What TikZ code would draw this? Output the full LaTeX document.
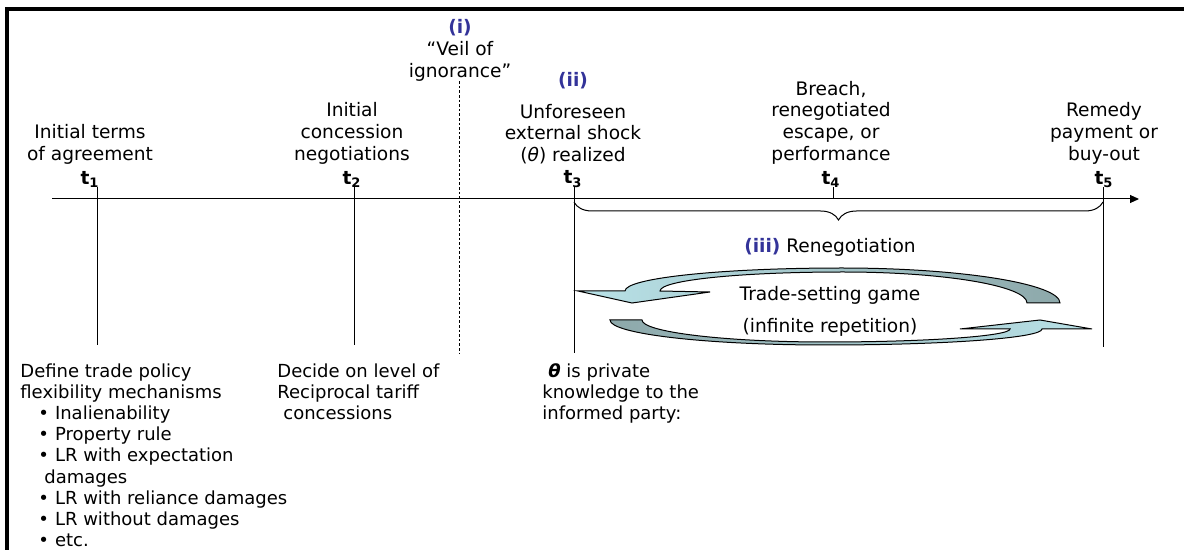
\documentclass[tikz,border=0pt]{standalone}
\usepackage{fontspec}
\setmainfont{DejaVu Sans}
\usetikzlibrary{positioning, arrows.meta, decorations.pathreplacing}
\definecolor{romblue}{HTML}{333399}
\definecolor{arrlight}{HTML}{B9E2E8}
\definecolor{arrdark}{HTML}{8DA8AA}

\begin{document}
\begin{tikzpicture}[x=0.5pt, y=-0.5pt, node distance=3pt,
  every node/.style={font=\fontsize{9.3}{10.9}\selectfont, inner sep=0pt},
  lbl/.style={align=center},
  tlbl/.style={font=\fontsize{9.3}{10.9}\selectfont\bfseries, anchor=south},
  rom/.style={text=romblue, font=\fontsize{9.3}{10.9}\selectfont\bfseries},
  note/.style={align=left, anchor=north west, font=\fontsize{9}{10.6}\selectfont},
  tline/.style={line width=0.5pt},
  loopband/.style={draw=black, line width=0.5pt}]
	\useasboundingbox (0,0) rectangle (1184,550);
	\draw[line width=2pt] (7,550) -- (7,9) -- (1184,9);

	% time axis
	\coordinate (ax0) at (52,199);
	\coordinate (ax1) at (1139,199);
	\draw[tline, -{Triangle[length=4.5pt,width=4pt]}] (ax0) -- (ax1);

	% ticks and drop lines
	\coordinate (k1) at (97,187);   \coordinate (e1) at (97,345);
	\coordinate (k2) at (354,187);  \coordinate (e2) at (354,345);
	\coordinate (k3) at (574,187);  \coordinate (e3) at (574,353);
	\coordinate (k4) at (833,187);  \coordinate (e4) at (833,199);
	\coordinate (k5) at (1103,187); \coordinate (e5) at (1103,347);
	\foreach \i in {1,...,5} \draw[tline] (k\i) -- (e\i);

	% time labels
	\node[tlbl] at (90,188) (t1) {t\textsubscript{1}};
	\node[tlbl] at (352,188) (t2) {t\textsubscript{2}};
	\node[tlbl] at (573,188) (t3) {t\textsubscript{3}};
	\node[tlbl] at (831,188) (t4) {t\textsubscript{4}};
	\node[tlbl] at (1104,188) (t5) {t\textsubscript{5}};

	\node[lbl, above=of t1] (init) {Initial terms\\of agreement};
	\node[lbl, above=of t2] (conc) {Initial\\concession\\negotiations};
	\node[lbl, above=of t3] (shock) {Unforeseen\\external shock\\(\textit{θ}) realized};
	\node[lbl, above=of t4] (breach) {Breach,\\renegotiated\\escape, or\\performance};
	\node[lbl, above=of t5] (remedy) {Remedy\\payment or\\buy-out};
	\node[rom, above=7pt of shock] (ii) {(ii)};

	% veil of ignorance
	\node[lbl] at (460,61) (veil) {“Veil of\\ignorance”};
	\node[rom, above=2pt of veil] (i) {(i)};
	\coordinate (veilend) at (459,353);
	\draw[tline, dash pattern=on 1.3pt off 1pt] (veil.south -| veilend) -- (veilend);

	% renegotiation phase
	\coordinate (br3) at (574,202);
	\coordinate (br5) at (1103,202);
	\draw[tline, decorate, decoration={brace, mirror, amplitude=9pt}] (br3) -- (br5);
	\node at (830,247) (reneg) {\textcolor{romblue}{\bfseries (iii)} Renegotiation};

	\shadedraw[loopband, left color=arrlight, right color=arrdark]
		(578,291) -- (632,303) -- (710,292) -- (660,291)
		.. controls (660,280) and (742,272) .. (843,272)
		.. controls (945,272) and (1027,286) .. (1027,303) -- (1060,303)
		.. controls (1060,284) and (962,268) .. (842,268)
		.. controls (722,268) and (625,278) .. (625,291) -- cycle;
	\shadedraw[loopband, left color=arrdark, right color=arrlight]
		(610,320) -- (642,320)
		.. controls (642,332) and (724,342) .. (826,342)
		.. controls (928,342) and (1010,336) .. (1010,329)
		-- (960,329) -- (1040,320) -- (1092,329) -- (1042,329)
		.. controls (1042,338) and (945,345) .. (826,345)
		.. controls (707,345) and (610,334) .. (610,320) -- cycle;
	\node at (830,295) (game) {Trade-setting game};
	\node at (830,327) (rep) {(infinite repetition)};

	% what is decided at each date
	\node[note] at (20,363) (define) {Define trade policy\\flexibility mechanisms\\
		\hspace*{9pt}•\hspace{3pt}Inalienability\\\hspace*{9pt}•\hspace{3pt}Property rule\\\hspace*{9pt}•\hspace{3pt}LR with expectation\\
		\hspace*{12pt}damages\\\hspace*{9pt}•\hspace{3pt}LR with reliance damages\\\hspace*{9pt}•\hspace{3pt}LR without damages\\
		\hspace*{9pt}•\hspace{3pt}etc.};
	\node[note] at (277,363) (decide) {Decide on level of\\Reciprocal tariff\\\hspace*{3pt}concessions};
	\node[note] at (542,363) (private) {\hspace*{3pt}\textbf{\textit{θ}} is private\\knowledge to the\\informed party:};
\end{tikzpicture}
\end{document}
